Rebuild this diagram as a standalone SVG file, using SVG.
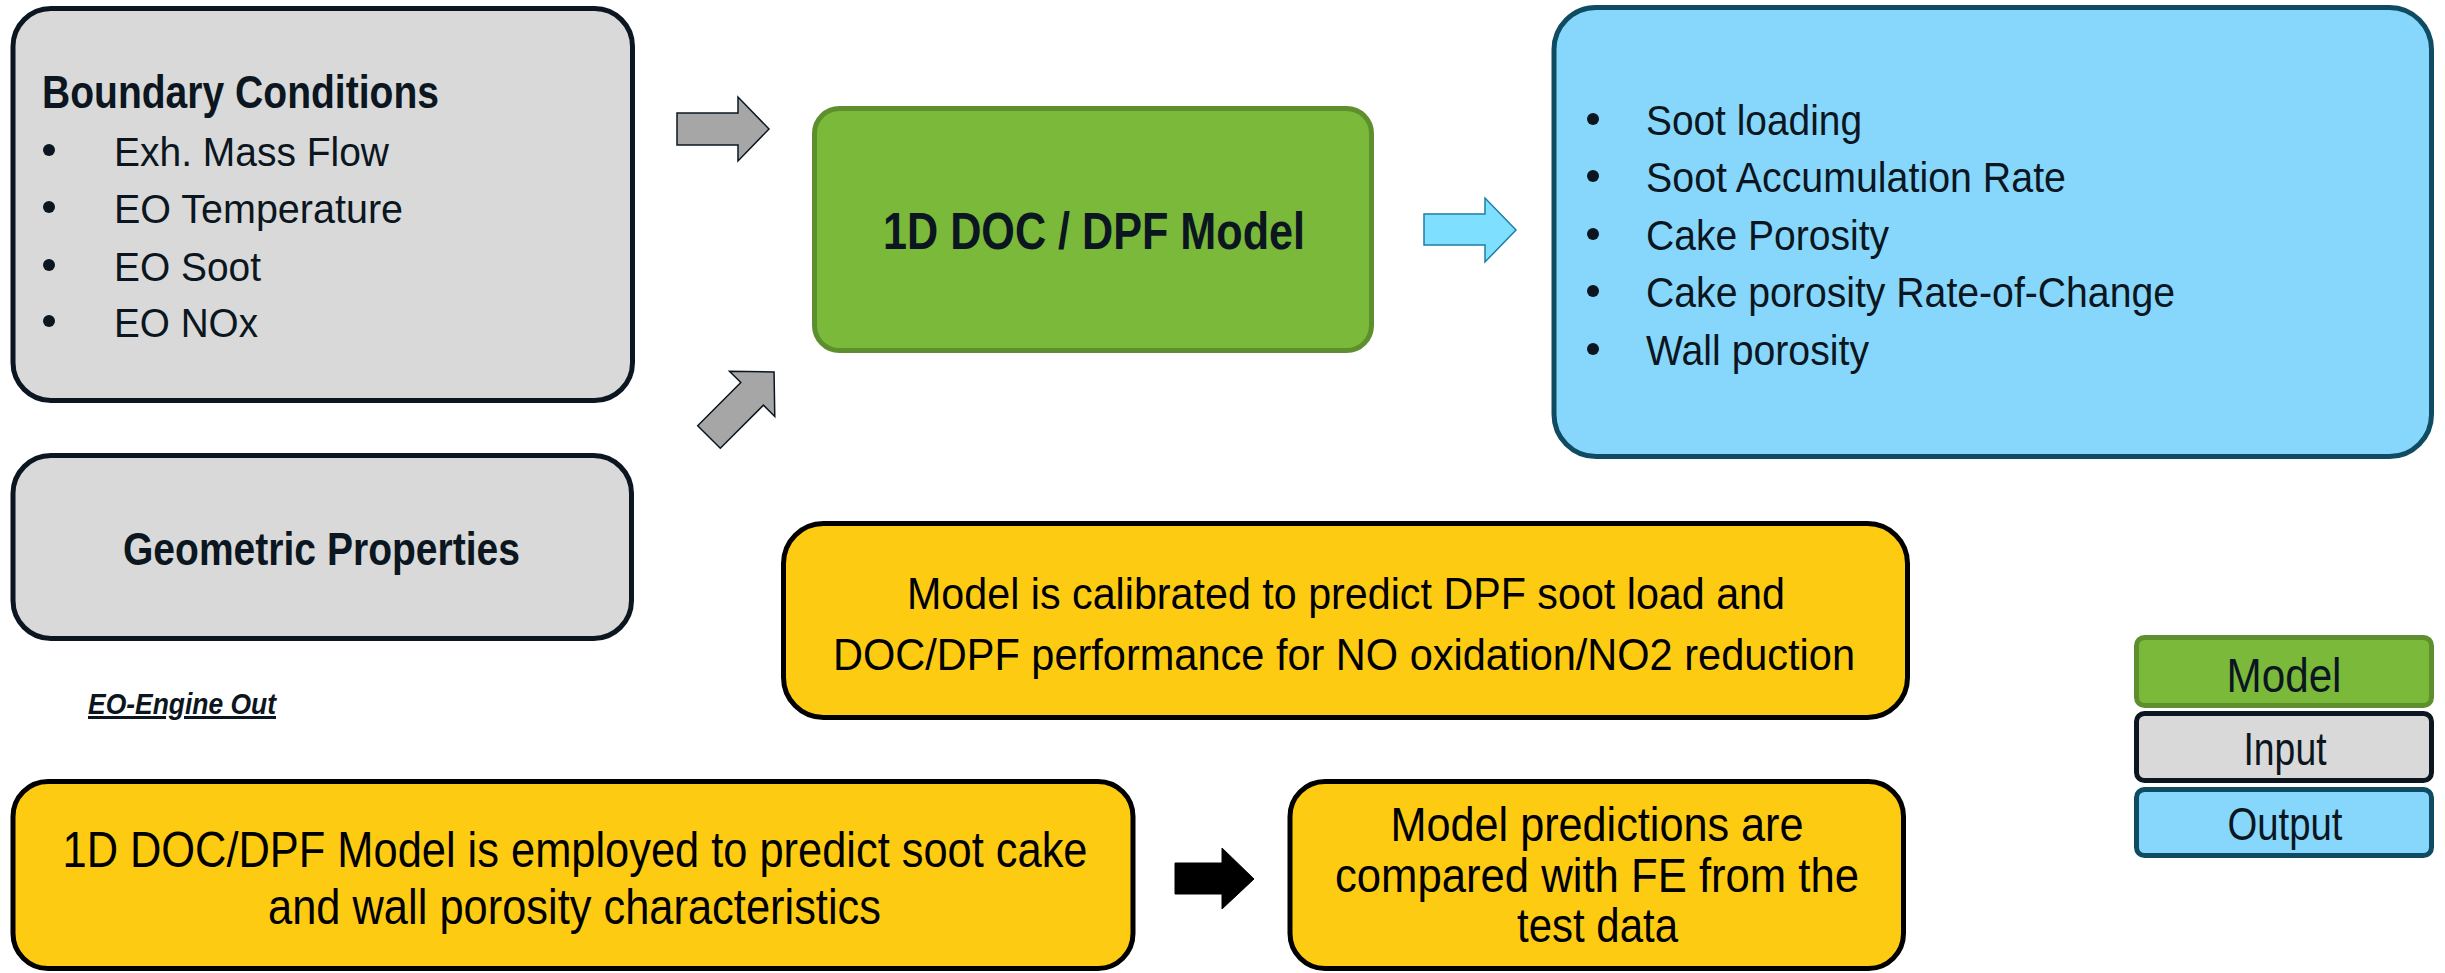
<svg xmlns="http://www.w3.org/2000/svg" width="2445" height="973" viewBox="0 0 2445 973">
  <style>
    .input { fill: #D9D9D9; stroke: #0B1620; stroke-width: 5; }
    .model { fill: #7AB93A; stroke: #5E8F2E; stroke-width: 5; }
    .output { fill: #87D7FD; stroke: #0F4C63; stroke-width: 5; }
    .note { fill: #FDCB12; stroke: #000000; stroke-width: 5; }
    .t { font-family: "Liberation Sans", Arial, sans-serif; fill: #0B1620; }
    .b { font-weight: bold; }
    .blk { fill: #000000; }
    .mid { text-anchor: middle; }
    .dot { fill: #0B1620; }
    .arr-in { fill: #A6A6A6; stroke: #0B1620; stroke-width: 1.5; stroke-linejoin: miter; }
    .arr-out { fill: #7FDFFF; stroke: #1C7FA6; stroke-width: 1.5; }
    .arr-step { fill: #000000; stroke: #000000; stroke-width: 1; }
  </style>
  <defs>
    <!-- block arrow pointing right, tail centre at origin -->
    <polygon id="blockArrow" points="0,-16 61,-16 61,-32 92,0 61,32 61,16 0,16"/>
  </defs>

  <rect width="2445" height="973" fill="#FFFFFF"/>

  <!-- Inputs -->
  <g id="boundary-conditions">
    <rect class="input" x="13" y="8.5" width="619.5" height="392" rx="38" ry="38"/>
    <text class="t b" x="42" y="108" font-size="46" textLength="397" lengthAdjust="spacingAndGlyphs">Boundary Conditions</text>
    <circle class="dot" cx="49" cy="150" r="6"/>
    <circle class="dot" cx="49" cy="207" r="6"/>
    <circle class="dot" cx="49" cy="265" r="6"/>
    <circle class="dot" cx="49" cy="321" r="6"/>
    <text class="t" x="114" y="166" font-size="41" textLength="275" lengthAdjust="spacingAndGlyphs">Exh. Mass Flow</text>
    <text class="t" x="114" y="223" font-size="41" textLength="289" lengthAdjust="spacingAndGlyphs">EO Temperature</text>
    <text class="t" x="114" y="281" font-size="41" textLength="147" lengthAdjust="spacingAndGlyphs">EO Soot</text>
    <text class="t" x="114" y="337" font-size="41" textLength="144" lengthAdjust="spacingAndGlyphs">EO NOx</text>
  </g>

  <g id="geometric-properties">
    <rect class="input" x="13" y="455.5" width="618.5" height="183" rx="38" ry="38"/>
    <text class="t b mid" x="321.5" y="565" font-size="47" textLength="397" lengthAdjust="spacingAndGlyphs">Geometric Properties</text>
  </g>

  <g id="abbreviation">
    <text class="t b" x="88" y="714" font-size="30" font-style="italic" text-decoration="underline" textLength="188" lengthAdjust="spacingAndGlyphs">EO-Engine Out</text>
  </g>

  <!-- Model -->
  <g id="doc-dpf-model">
    <rect class="model" x="814.5" y="108.5" width="557" height="242" rx="25" ry="25"/>
    <text class="t b mid" x="1094" y="249" font-size="52" textLength="422" lengthAdjust="spacingAndGlyphs">1D DOC / DPF Model</text>
  </g>

  <!-- Outputs -->
  <g id="model-outputs">
    <rect class="output" x="1554" y="7.5" width="877.5" height="449" rx="42" ry="42"/>
    <circle class="dot" cx="1593" cy="119" r="6"/>
    <circle class="dot" cx="1593" cy="176" r="6"/>
    <circle class="dot" cx="1593" cy="234" r="6"/>
    <circle class="dot" cx="1593" cy="291" r="6"/>
    <circle class="dot" cx="1593" cy="349" r="6"/>
    <text class="t" x="1646" y="135" font-size="42" textLength="216" lengthAdjust="spacingAndGlyphs">Soot loading</text>
    <text class="t" x="1646" y="192" font-size="42" textLength="420" lengthAdjust="spacingAndGlyphs">Soot Accumulation Rate</text>
    <text class="t" x="1646" y="250" font-size="42" textLength="243" lengthAdjust="spacingAndGlyphs">Cake Porosity</text>
    <text class="t" x="1646" y="307" font-size="42" textLength="529" lengthAdjust="spacingAndGlyphs">Cake porosity Rate-of-Change</text>
    <text class="t" x="1646" y="365" font-size="42" textLength="223" lengthAdjust="spacingAndGlyphs">Wall porosity</text>
  </g>

  <!-- Notes -->
  <g id="calibration-note">
    <rect class="note" x="783.5" y="523.5" width="1124" height="194" rx="40" ry="40"/>
    <text class="t blk mid" x="1346" y="609" font-size="45" textLength="878" lengthAdjust="spacingAndGlyphs">Model is calibrated to predict DPF soot load and</text>
    <text class="t blk mid" x="1344" y="670" font-size="45" textLength="1022" lengthAdjust="spacingAndGlyphs">DOC/DPF performance for NO oxidation/NO2 reduction</text>
  </g>

  <g id="prediction-step">
    <rect class="note" x="13" y="781.5" width="1120" height="187" rx="35" ry="35"/>
    <text class="t blk mid" x="575" y="867" font-size="50" textLength="1025" lengthAdjust="spacingAndGlyphs">1D DOC/DPF Model is employed to predict soot cake</text>
    <text class="t blk mid" x="574.5" y="924" font-size="50" textLength="613" lengthAdjust="spacingAndGlyphs">and wall porosity characteristics</text>
  </g>

  <g id="comparison-step">
    <rect class="note" x="1290" y="781.5" width="613.5" height="187" rx="35" ry="35"/>
    <text class="t blk mid" x="1597" y="841" font-size="48" textLength="413" lengthAdjust="spacingAndGlyphs">Model predictions are</text>
    <text class="t blk mid" x="1597" y="892" font-size="48" textLength="524" lengthAdjust="spacingAndGlyphs">compared with FE from the</text>
    <text class="t blk mid" x="1597.5" y="942" font-size="48" textLength="161" lengthAdjust="spacingAndGlyphs">test data</text>
  </g>

  <!-- Legend -->
  <g id="legend-model">
    <rect class="model" x="2136.5" y="637.5" width="295" height="68" rx="8" ry="8"/>
    <text class="t mid" x="2284" y="692" font-size="48" textLength="115" lengthAdjust="spacingAndGlyphs">Model</text>
  </g>
  <g id="legend-input">
    <rect class="input" x="2136.5" y="713.5" width="295" height="67" rx="8" ry="8"/>
    <text class="t mid" x="2285" y="765" font-size="46" textLength="83" lengthAdjust="spacingAndGlyphs">Input</text>
  </g>
  <g id="legend-output">
    <rect class="output" x="2136.5" y="789.5" width="295" height="66" rx="8" ry="8"/>
    <text class="t mid" x="2285" y="840" font-size="46" textLength="115" lengthAdjust="spacingAndGlyphs">Output</text>
  </g>

  <!-- Connectors -->
  <g id="connectors">
    <use href="#blockArrow" class="arr-in" transform="translate(677,129)"/>
    <use href="#blockArrow" class="arr-in" transform="translate(709,437) rotate(-45)"/>
    <polygon class="arr-out" points="1424,214 1485,214 1485,198 1516,230 1485,262 1485,245 1424,245"/>
    <polygon class="arr-step" points="1175,863 1222,863 1222,848 1254,879 1222,909 1222,894 1175,894"/>
  </g>
</svg>
